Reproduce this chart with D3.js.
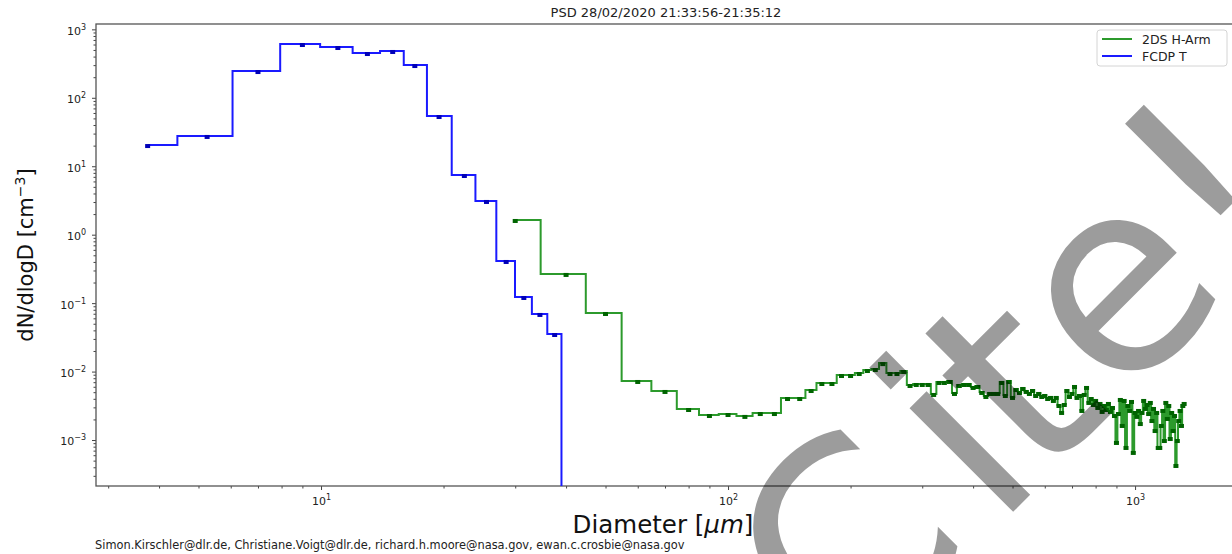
<!DOCTYPE html>
<html>
<head>
<meta charset="utf-8">
<script src="https://cdn.jsdelivr.net/npm/d3@7"></script>
<style>
  body { margin: 0; background: #fff; }
  svg { display: block; font-family: "DejaVu Sans", sans-serif; }
</style>
</head>
<body>
<svg width="1232" height="554"></svg>
<script>
// 2DS H-Arm bin centres [um] and dN/dlogD [cm-3]
var diam2DS = [30, 40, 50, 60, 70, 80, 90, 100, 110, 120, 130, 140, 150, 160, 170, 180, 190, 200,
  210, 220, 230, 240, 250, 260, 270, 280, 290, 300, 310, 320, 330, 340, 350, 360, 370, 380, 390, 400,
  410, 420, 430, 440, 450, 460, 470, 480, 490, 500, 510, 520, 530, 540, 550, 560, 570, 580, 590, 600,
  610, 620, 630, 640, 650, 660, 670, 680, 690, 700, 710, 720, 730, 740, 750, 760, 770, 780, 790, 800,
  810, 820, 830, 840, 850, 860, 870, 880, 890, 900, 910, 920, 930, 940, 950, 960, 970, 980, 990, 1000,
  1010, 1020, 1030, 1040, 1050, 1060, 1070, 1080, 1090, 1100, 1110, 1120, 1130, 1140, 1150, 1160,
  1170, 1180, 1190, 1200, 1210, 1220, 1230, 1240, 1250, 1260, 1270, 1280, 1290, 1300, 1310, 1320];
var conc2DS = [1.64, 0.267, 0.0718, 0.00729, 0.00521, 0.00284, 0.00232, 0.00240, 0.00225, 0.00248,
  0.00248, 0.00411, 0.00411, 0.00538, 0.00681, 0.00681, 0.00891, 0.00891, 0.00953, 0.01054, 0.0109,
  0.0133, 0.00953, 0.00953, 0.0102, 0.00637, 0.00659, 0.00659, 0.00659, 0.00471, 0.00705, 0.00705,
  0.00729, 0.00487, 0.00637, 0.00659, 0.00659, 0.00596, 0.00616, 0.00504, 0.00440, 0.00487, 0.00487,
  0.00487, 0.00705, 0.00455, 0.00729, 0.00426, 0.00557, 0.00504, 0.00576, 0.00521, 0.00487, 0.00538,
  0.00455, 0.00487, 0.00440, 0.00455, 0.00411, 0.00426, 0.00385, 0.00426, 0.00325, 0.00257, 0.00336,
  0.00538, 0.00440, 0.00487, 0.00616, 0.00426, 0.00455, 0.00275, 0.00471, 0.00596, 0.00360, 0.00411,
  0.00336, 0.00385, 0.00304, 0.00348, 0.00266, 0.00325, 0.00284, 0.00348, 0.00266, 0.00304, 0.00232,
  0.000937, 0.00248, 0.00398, 0.00166, 0.00385, 0.000792, 0.00325, 0.00275, 0.00372, 0.000670,
  0.00257, 0.00225, 0.00275, 0.00177, 0.00257, 0.00385, 0.00294, 0.00336, 0.00248, 0.00360, 0.00196,
  0.00294, 0.00140, 0.00257, 0.000792, 0.000792, 0.00166, 0.00275, 0.00100, 0.00360, 0.00210,
  0.00325, 0.00107, 0.00257, 0.00140, 0.00232, 0.000432, 0.00100, 0.00196, 0.00275, 0.00166,
  0.00325, 0.00348];

// FCDP T
var diamFCDP = [3.75, 5.25, 7, 9, 11, 13, 15, 17, 19.5, 22.5, 25.5, 28.5, 31.5, 34.5, 37.5, 40.5];
var concFCDP = [20.4, 27.7, 246, 611, 552, 451, 483, 301, 54.2, 7.45, 3.11, 0.413, 0.123, 0.0695,
  0.0354, 0];

var xMajor = [10, 100, 1000];
var xExp = ["1", "2", "3"];
var yMajor = [1e-3, 1e-2, 1e-1, 1, 10, 100, 1000];
var yExp = ["\u22123", "\u22122", "\u22121", "0", "1", "2", "3"];

var titleText = "PSD 28/02/2020 21:33:56-21:35:12";
var footer = "Simon.Kirschler@dlr.de, Christiane.Voigt@dlr.de, richard.h.moore@nasa.gov, ewan.c.crosbie@nasa.gov";

var svg = d3.select("svg");
var L = 96, R = 1236, T = 24, B = 486;

var x = d3.scaleLog().domain([2.80, 1770]).range([L, R]);
var y = d3.scaleLog().domain([2.13e-4, 1197]).range([B, T]);

svg.append("defs").append("clipPath").attr("id", "plotclip")
  .append("rect").attr("x", L).attr("y", T).attr("width", R - L).attr("height", B - T);

// axes
function supLabel(sel, exps) {
  sel.each(function (d, i) {
    var t = d3.select(this).text("");
    t.append("tspan").text("10");
    t.append("tspan").attr("dy", -5).attr("font-size", 8).text(exps[i]);
  });
}

var xMinor = x.ticks().filter(v => xMajor.indexOf(v) < 0 && v > 2.8 && v < 1770);
var yMinor = y.ticks().filter(v => !yMajor.some(m => Math.abs(m - v) / m < 1e-6));

var gx = svg.append("g").attr("transform", "translate(0," + B + ")")
  .call(d3.axisBottom(x).tickValues(xMajor).tickSize(4).tickPadding(5).tickFormat(""));
gx.selectAll("text").attr("font-size", 11).attr("dy", "0.9em").call(supLabel, xExp);
svg.append("g").attr("transform", "translate(0," + B + ")")
  .call(d3.axisBottom(x).tickValues(xMinor).tickSize(2.5).tickFormat(""));

var gy = svg.append("g").attr("transform", "translate(" + L + ",0)")
  .call(d3.axisLeft(y).tickValues(yMajor).tickSize(4).tickPadding(6).tickFormat(""));
gy.selectAll("text").attr("font-size", 11).attr("dy", "0.45em").call(supLabel, yExp);
svg.append("g").attr("transform", "translate(" + L + ",0)")
  .call(d3.axisLeft(y).tickValues(yMinor).tickSize(2.5).tickFormat(""));

svg.selectAll(".domain").remove();
svg.selectAll(".tick line").attr("stroke", "#444");
svg.selectAll(".tick text").attr("fill", "#222").attr("font-family", "DejaVu Sans");

svg.append("rect").attr("x", L).attr("y", T).attr("width", R - L).attr("height", B - T)
  .attr("fill", "none").attr("stroke", "#555").attr("stroke-width", 1.3);

// data
var line = d3.line()
  .x(d => x(d[0]))
  .y(d => y(Math.max(d[1], 1e-6)))
  .curve(d3.curveStep);

var plot = svg.append("g").attr("clip-path", "url(#plotclip)");

function drawSeries(xs, ys, lineCol, markCol) {
  var pts = xs.map((v, i) => [v, ys[i]]);
  plot.append("path").datum(pts)
    .attr("fill", "none").attr("stroke", lineCol).attr("stroke-width", 2)
    .attr("d", line);
  plot.selectAll(null).data(pts.filter(p => p[1] > 0)).enter().append("rect")
    .attr("x", d => x(d[0]) - 2.5).attr("y", d => y(d[1]) - 1)
    .attr("width", 5).attr("height", 4).attr("fill", markCol);
}
drawSeries(diam2DS, conc2DS, "#2c9a2c", "#006400");
drawSeries(diamFCDP, concFCDP, "#1a1aff", "#0000b8");

// title, labels
svg.append("text").attr("x", (L + R) / 2).attr("y", 17).attr("text-anchor", "middle")
  .attr("font-size", 13).attr("fill", "#222").text(titleText);

var xl = svg.append("text").attr("x", 663).attr("y", 533).attr("text-anchor", "middle")
  .attr("font-size", 24.5).attr("fill", "#111");
xl.append("tspan").text("Diameter [");
xl.append("tspan").attr("font-style", "italic").text("\u03bcm");
xl.append("tspan").text("]");

var yl = svg.append("text").attr("transform", "translate(33," + (T + B) / 2 + ") rotate(-90)")
  .attr("text-anchor", "middle").attr("font-size", 21).attr("fill", "#111");
yl.append("tspan").text("dN/dlogD [cm");
yl.append("tspan").attr("dy", -8).attr("font-size", 14).text("\u22123");
yl.append("tspan").attr("dy", 8).text("]");

svg.append("text").attr("x", 95).attr("y", 549).attr("font-size", 11.4).attr("fill", "#222")
  .text(footer);

// legend
var lg = svg.append("g");
lg.append("rect").attr("x", 1097).attr("y", 30).attr("width", 130).attr("height", 36).attr("rx", 3)
  .attr("fill", "#fff").attr("fill-opacity", 0.8).attr("stroke", "#d4d4d4");
[["2DS H-Arm", "#2c9a2c"], ["FCDP T", "#1a1aff"]].forEach(function (e, i) {
  var ly = 39 + i * 17;
  lg.append("line").attr("x1", 1102).attr("x2", 1132).attr("y1", ly).attr("y2", ly)
    .attr("stroke", e[1]).attr("stroke-width", 2);
  lg.append("text").attr("x", 1142).attr("y", ly + 4.5).attr("font-size", 12.5).attr("fill", "#222").text(e[0]);
});

// watermark
var wm = svg.append("text").attr("transform", "translate(846,679) rotate(-45)")
  .attr("font-size", 268).attr("fill", "#000").attr("fill-opacity", 0.39);
wm.append("tspan").text("C");
wm.append("tspan").attr("dx", 24).text("i");
wm.append("tspan").attr("dx", -10).text("t");
wm.append("tspan").attr("dx", 4).text("e!");
</script>
</body>
</html>
